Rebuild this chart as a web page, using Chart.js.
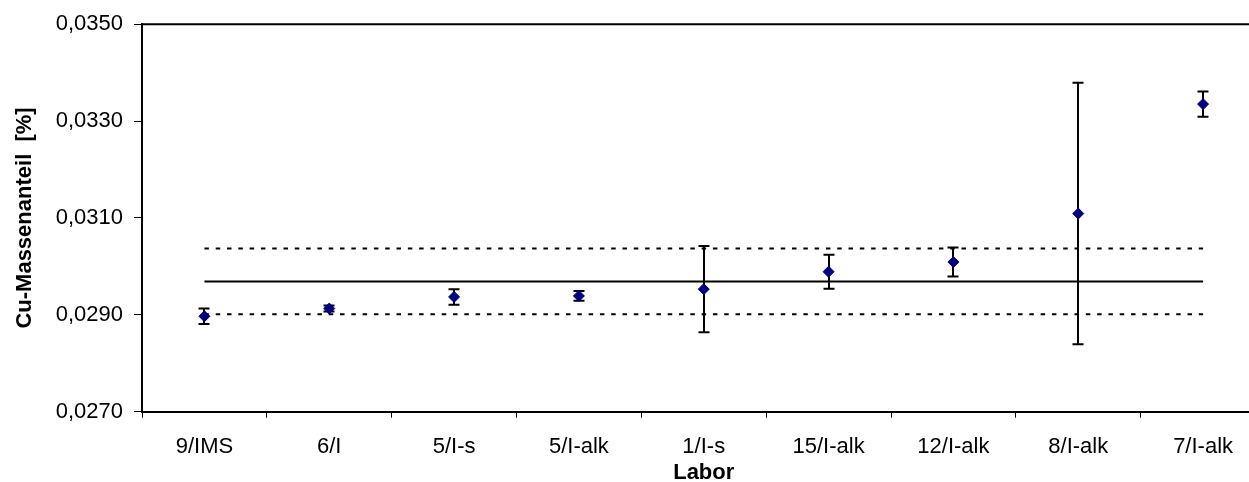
<!DOCTYPE html>
<html>
<head>
<meta charset="utf-8">
<script src="https://cdn.jsdelivr.net/npm/chart.js@4.4.0/dist/chart.umd.min.js"></script>
<style>
  html, body { margin: 0; padding: 0; background: #fff; overflow: hidden; width: 1249px; height: 482px; }
  #wrap { width: 1272px; height: 482px; position: relative; }
</style>
</head>
<body>
<div id="wrap"><canvas id="c" width="1272" height="482"></canvas></div>
<script>
// Laboratories (lab number / method)
const labs = ['9/IMS', '6/I', '5/I-s', '5/I-alk', '1/I-s', '15/I-alk', '12/I-alk', '8/I-alk', '7/I-alk'];
// Cu mass fraction per lab, in %
const cuValues = [0.02897, 0.02913, 0.02937, 0.02939, 0.02953, 0.02989, 0.03009, 0.03109, 0.03335];
// Uncertainty (half width of the error bar), in %
const cuUncert = [0.00016, 0.00006, 0.00016, 0.00010, 0.00089, 0.00035, 0.00030, 0.00270, 0.00026];
// Consensus mean and its limits
const meanValue = 0.02969;
const lowerLimit = 0.02901;
const upperLimit = 0.03037;
// Y axis tick values
const yTickValues = [0.0270, 0.0290, 0.0310, 0.0330, 0.0350];

const FONT = "'Liberation Sans', Arial, sans-serif";
Chart.defaults.font.family = FONT;
Chart.defaults.font.size = 22;
Chart.defaults.color = '#000';

const constLine = v => labs.map(() => v);

// Vertical error bars with caps, positioned through the chart scales
const errorBars = {
  id: 'errorBars',
  beforeDatasetsDraw(chart) {
    const { ctx, scales: { x, y } } = chart;
    ctx.save();
    ctx.strokeStyle = '#000';
    ctx.lineWidth = 2;
    cuValues.forEach((v, i) => {
      const px = Math.round(x.getPixelForValue(i));
      const yTop = y.getPixelForValue(v + cuUncert[i]);
      const yBot = y.getPixelForValue(v - cuUncert[i]);
      ctx.beginPath();
      ctx.moveTo(px, yTop);
      ctx.lineTo(px, yBot);
      ctx.moveTo(px - 5.5, yTop);
      ctx.lineTo(px + 5.5, yTop);
      ctx.moveTo(px - 5.5, yBot);
      ctx.lineTo(px + 5.5, yBot);
      ctx.stroke();
    });
    ctx.restore();
  }
};

// Top frame line of the plot area
const topFrame = {
  id: 'topFrame',
  afterDraw(chart) {
    const { ctx, chartArea } = chart;
    ctx.save();
    ctx.strokeStyle = '#000';
    ctx.lineWidth = 2;
    ctx.beginPath();
    ctx.moveTo(chartArea.left - 1, chartArea.top);
    ctx.lineTo(chartArea.right, chartArea.top);
    ctx.stroke();
    ctx.restore();
  }
};

new Chart(document.getElementById('c'), {
  type: 'line',
  data: {
    labels: labs,
    datasets: [
      {
        label: 'Cu',
        data: cuValues,
        showLine: false,
        pointStyle: 'rectRot',
        pointRadius: 5.5,
        pointBorderWidth: 1,
        pointBackgroundColor: '#000080',
        pointBorderColor: '#000080',
        order: 0
      },
      {
        label: 'Mittelwert',
        data: constLine(meanValue),
        borderColor: '#000',
        borderWidth: 2,
        pointRadius: 0,
        fill: false,
        order: 1
      },
      {
        label: 'obere Grenze',
        data: constLine(upperLimit),
        borderColor: '#000',
        borderWidth: 2,
        borderDash: [4.5, 6.8],
        pointRadius: 0,
        fill: false,
        order: 1
      },
      {
        label: 'untere Grenze',
        data: constLine(lowerLimit),
        borderColor: '#000',
        borderWidth: 2,
        borderDash: [4.5, 6.8],
        pointRadius: 0,
        fill: false,
        order: 1
      }
    ]
  },
  options: {
    responsive: false,
    animation: false,
    layout: { padding: { top: 21, right: 0, bottom: 0, left: 0 } },
    plugins: { legend: { display: false }, tooltip: { enabled: false } },
    scales: {
      x: {
        type: 'category',
        offset: true,
        grid: { offset: true, drawOnChartArea: false, drawTicks: true, tickLength: 6, tickWidth: 1, tickColor: '#000' },
        border: { display: true, color: '#000', width: 2 },
        ticks: { color: '#000', font: { size: 22 }, padding: 16, maxRotation: 0, autoSkip: false },
        title: { display: true, text: 'Labor', color: '#000', font: { size: 22, weight: 'bold', lineHeight: 1 }, padding: { top: 0, bottom: -2 } },
        afterFit(s) { s.height = 70.3; }
      },
      y: {
        min: 0.027,
        max: 0.035,
        afterBuildTicks(s) { s.ticks = yTickValues.map(v => ({ value: v })); },
        grid: { drawOnChartArea: false, drawTicks: true, tickLength: 8, tickWidth: 1, tickColor: '#000' },
        border: { display: true, color: '#000', width: 2 },
        ticks: { color: '#000', font: { size: 22 }, padding: 11, callback: v => v.toFixed(4).replace('.', ',') },
        title: { display: true, text: 'Cu-Massenanteil  [%]', color: '#000', font: { size: 22, weight: 'bold' }, padding: { top: 12, bottom: 0 } },
        afterFit(s) { s.width = 142; }
      }
    }
  },
  plugins: [errorBars, topFrame]
});
</script>
</body>
</html>
